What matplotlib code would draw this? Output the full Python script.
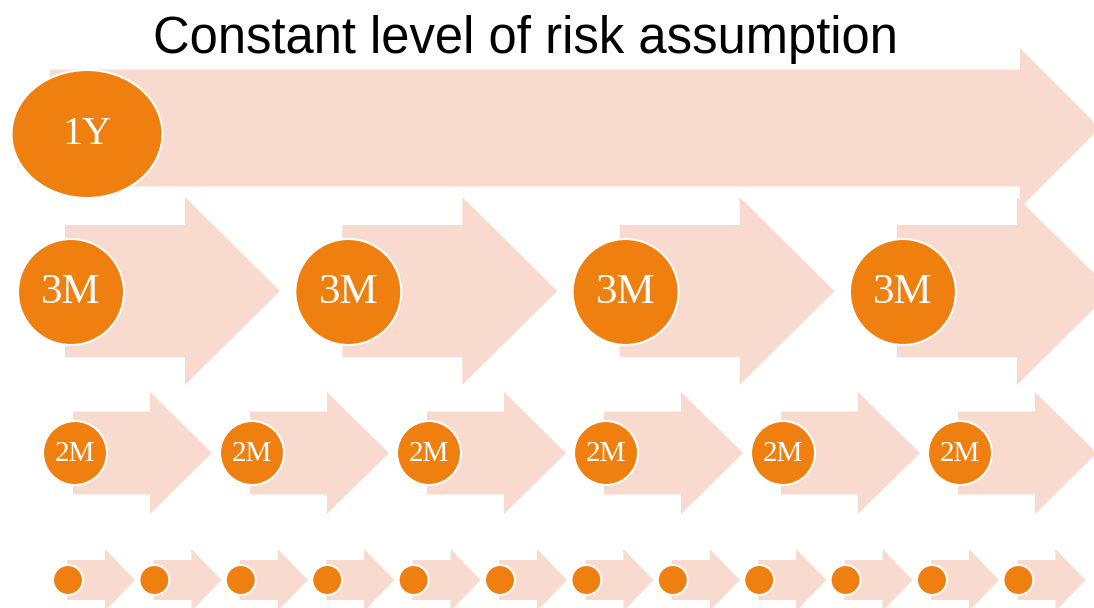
import matplotlib
matplotlib.use("Agg")
import matplotlib.pyplot as plt
from matplotlib.patches import Polygon, Ellipse

# ---- data ----
title = "Constant level of risk assumption"
row_labels = ["1Y", "3M", "2M", ""]
row_counts = [1, 4, 6, 12]

# ---- layout (pixel space) ----
W, H = 1094, 608
row_cy = [128, 291, 453, 580]
row_start = [50, 65, 73, 67]
row_spacing = [0, 277.3, 177.0, 86.4]
row_len = [1050, 215, 139, 68]
row_head_len = [80, 95, 62, 30]
row_body_half = [58.5, 66, 41.5, 20]
row_head_half = [80, 94, 61, 31]
circ_dx = [37, 6, 2, 1]
circ_dy = [6, 1, 0, 0]
circ_w = [151, 106, 64, 30]
circ_h = [128, 106, 64, 30]
label_size = [29, 31, 21, 10]

arrow_color = "#F8DACF"
dot_color = "#EF7F0E"

fig = plt.figure(figsize=(W / 100, H / 100), dpi=100)
ax = fig.add_axes([0, 0, 1, 1])
ax.set_xlim(0, W)
ax.set_ylim(H, 0)
ax.axis("off")

for r, n in enumerate(row_counts):
    cy = row_cy[r]
    for i in range(n):
        x0 = row_start[r] + i * row_spacing[r]
        tip = x0 + row_len[r]
        base = tip - row_head_len[r]
        bh, hh = row_body_half[r], row_head_half[r]
        pts = [(x0, cy - bh), (base, cy - bh), (base, cy - hh), (tip, cy),
               (base, cy + hh), (base, cy + bh), (x0, cy + bh)]
        ax.add_patch(Polygon(pts, closed=True, facecolor=arrow_color,
                             edgecolor="none", zorder=1))
    for i in range(n):
        x0 = row_start[r] + i * row_spacing[r]
        cx = x0 + circ_dx[r]
        ccy = cy + circ_dy[r]
        ax.add_patch(Ellipse((cx, ccy), circ_w[r], circ_h[r], facecolor=dot_color,
                             edgecolor="white", linewidth=1.5, zorder=3))
        if row_labels[r]:
            ax.text(cx, ccy + 1, row_labels[r], ha="center", va="center",
                    color="white", fontsize=label_size[r],
                    family="Liberation Serif", zorder=4)

ax.text(525, 53, title, ha="center", va="baseline", fontsize=36.5,
        family="Liberation Sans", color="black", zorder=5)

fig.savefig("out.png", dpi=100)
